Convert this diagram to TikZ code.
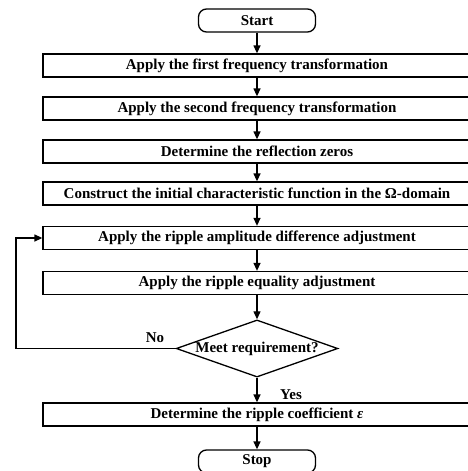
\documentclass[tikz,border=0pt]{standalone}
\usepackage{fontspec}
\setmainfont{Liberation Serif}
\usetikzlibrary{arrows.meta,shapes.geometric}
\tikzset{
  box/.style={draw,rectangle,minimum width=428pt,minimum height=23pt,inner sep=0pt},
  term/.style={draw,rectangle,rounded corners=8pt,minimum width=117pt,minimum height=23pt,inner sep=0pt},
  cond/.style={draw,diamond,aspect=2.83,inner sep=0pt},
}
\begin{document}
\begin{tikzpicture}[x=1pt,y=-1pt,line width=1.3pt,font=\fontsize{15}{18}\selectfont\bfseries]
      \useasboundingbox (0,0) rectangle (468,471);
      \path
        (257,20.5) node[term] (0){Start}
        (257,65.5) node[box] (1){Apply the first frequency transformation}
        (257,108.5) node[box] (2){Apply the second frequency transformation}
        (257,151.5) node[box] (3){Determine the reflection zeros}
        (257,193.5) node[box] (4){Construct the initial characteristic function in the Ω-domain}
        (257,238) node[box] (5){Apply the ripple amplitude difference adjustment}
        (257,283) node[box] (6){Apply the ripple equality adjustment}
        (257,348.5) node[cond] (7){Meet requirement?}
        (257,414.5) node[box] (8){Determine the ripple coefficient \textit{ε}}
        (257,461.5) node[term] (9){Stop};
      \coordinate (a) at (16,348.5);
      \node (no) at (155,338) {No};
      \node (yes) at (291,395) {Yes};
      \begin{scope}[-{Triangle[length=8pt,width=7pt]}]
        \draw (0) to (1);
        \draw (1) to (2);
        \draw (2) to (3);
        \draw (3) to (4);
        \draw (4) to (5);
        \draw (5) to (6);
        \draw (6) to (7);
        \draw (7) to (8);
        \draw (8) to (9);
        \draw (7.west) -- (a) |- (5.west);
      \end{scope}
    \end{tikzpicture}
\end{document}
